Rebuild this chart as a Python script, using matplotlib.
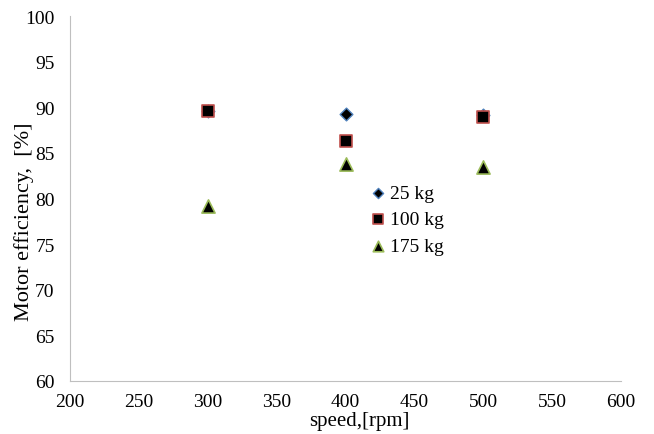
import matplotlib
matplotlib.use("Agg")
import matplotlib.pyplot as plt

speed = [300, 400, 500]
eff_25 = [89.6, 89.3, 89.1]
eff_100 = [89.6, 86.3, 88.9]
eff_175 = [79.2, 83.8, 83.5]
labels = ["25 kg", "100 kg", "175 kg"]

plt.rcParams['font.family'] = ['Liberation Serif', 'DejaVu Serif']

fig = plt.figure(figsize=(6.54, 4.35), dpi=100)
ax = fig.add_axes([70/654, 1-382/435, 551/654, 365/435])

ax.scatter(speed, eff_25, marker='D', s=42, facecolor='black', edgecolor='#4F81BD', linewidths=1, zorder=2, label=labels[0])
ax.scatter(speed, eff_100, marker='s', s=82, facecolor='black', edgecolor='#C0504D', linewidths=1.2, zorder=3, label=labels[1])
ax.scatter(speed, eff_175, marker='^', s=90, facecolor='black', edgecolor='#9BBB59', linewidths=1.2, zorder=3, label=labels[2])

ax.set_xlim(200, 600)
ax.set_ylim(60, 100)
ax.set_xticks(range(200, 601, 50))
ax.set_yticks(range(60, 101, 5))
ax.tick_params(axis='x', length=0, labelsize=14, pad=9)
ax.tick_params(axis='y', length=0, labelsize=14, pad=11)
for s in ['top', 'right']:
    ax.spines[s].set_visible(False)
for s in ['left', 'bottom']:
    ax.spines[s].set_color('#BFBFBF')
ax.set_xlabel('speed,[rpm]', fontsize=15)
ax.xaxis.set_label_coords(0.525, -0.083)
ax.set_ylabel('Motor efficiency,  [%]', fontsize=16)
ax.yaxis.set_label_coords(-0.066, 0.44)

leg = ax.legend(loc='upper left', bbox_to_anchor=(0.52, 0.565), frameon=False, fontsize=14,
                handletextpad=0.0, borderpad=0, labelspacing=0.45, markerscale=0.8,
                handlelength=1.2)

fig.savefig('out.png', dpi=100)
